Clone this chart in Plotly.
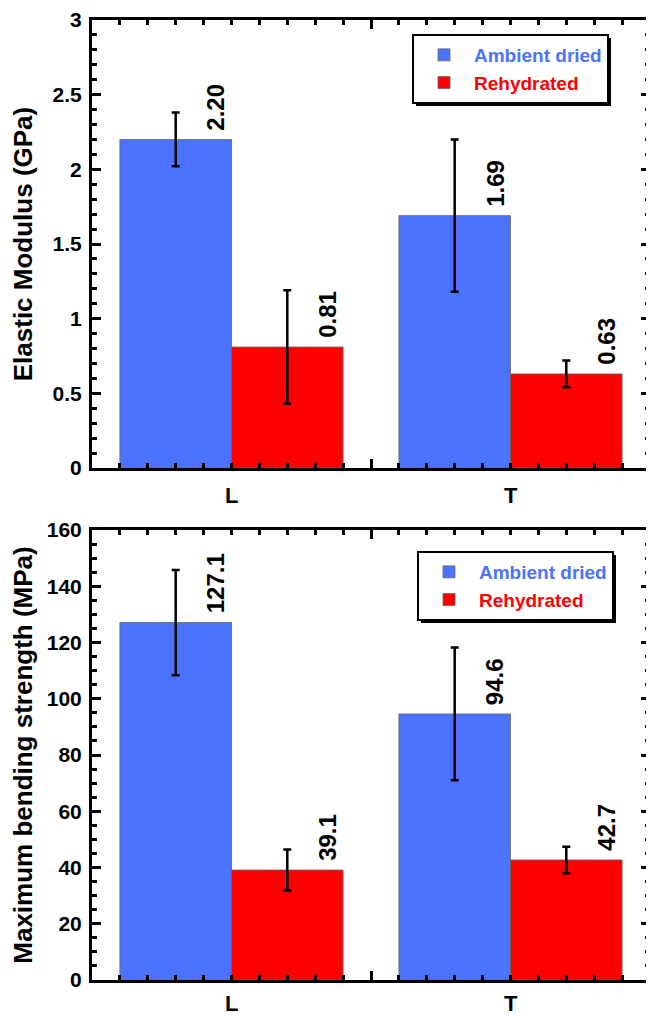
import numpy as np
import plotly.graph_objects as go

categories = ["L", "T"]
series_names = ["Ambient dried", "Rehydrated"]
series_colors = ["#4C73FF", "#FF0000"]

modulus_ambient = [2.20, 1.69]
modulus_ambient_err = [0.18, 0.51]
modulus_rehyd = [0.81, 0.63]
modulus_rehyd_err = [0.38, 0.09]

strength_ambient = [127.1, 94.6]
strength_ambient_err = [18.7, 23.6]
strength_rehyd = [39.1, 42.7]
strength_rehyd_err = [7.3, 4.7]

FONT = "Arial, Liberation Sans, sans-serif"
BAR_W = 0.4
offsets = [-0.4, 0.0]

# page body adds an 8px offset; size the figure so the plot lands where the reference has it
W, H = 646, 1009
ML, MR, MT, MB = 84, 4, 12, 37
PW, PH = W - ML - MR, H - MT - MB

fig = go.Figure()

panels = [
    (("x", "y"), "legend", [modulus_ambient, modulus_rehyd], [modulus_ambient_err, modulus_rehyd_err], "{:.2f}", -27),
    (("x2", "y2"), "legend2", [strength_ambient, strength_rehyd], [strength_ambient_err, strength_rehyd_err], "{:.1f}", -23),
]

xs = np.arange(len(categories))
annotations = []
for (xa, ya), leg, vals, errs, fmt, cat_shift in panels:
    for k in range(2):
        fig.add_trace(go.Bar(
            x=xs, y=vals[k], width=BAR_W, offset=offsets[k],
            name=f"<span style='color:{series_colors[k]}'>{series_names[k]}</span>",
            marker=dict(color=series_colors[k], line=dict(color="#666666", width=0.8)),
            error_y=dict(type="data", array=errs[k], visible=True, color="black",
                         thickness=2.5, width=4),
            xaxis=xa, yaxis=ya, legend=leg,
        ))
        for i, v in enumerate(vals[k]):
            annotations.append(dict(
                x=xs[i] + offsets[k] + BAR_W / 2, y=v, xref=xa, yref=ya,
                text=fmt.format(v), showarrow=False, textangle=-90,
                xanchor="center", yanchor="bottom", xshift=40, yshift=7,
                font=dict(family=FONT, size=24, color="black", weight="bold"),
            ))
    for i, c in enumerate(categories):
        annotations.append(dict(
            x=xs[i], y=0, xref=xa, yref=ya + " domain",
            text=c, showarrow=False, xanchor="center", yanchor="middle",
            yshift=cat_shift, borderpad=0,
            font=dict(family=FONT, size=22, color="black", weight="bold"),
        ))

minor_x = [v for v in np.round(np.arange(-0.4, 1.41, 0.1), 1) if abs(v - 0.5) > 1e-6]

xaxis_common = dict(
    range=[-0.5, 1.5], tickmode="array", tickvals=[0.5], ticktext=[""],
    ticks="inside", ticklen=9, tickwidth=3, tickcolor="black",
    showline=True, linecolor="black", linewidth=3, mirror="ticks",
    showgrid=False, zeroline=False, fixedrange=True, automargin=False,
    minor=dict(tickmode="array", tickvals=minor_x, ticks="inside", ticklen=5,
               tickwidth=2.5, tickcolor="black", showgrid=False),
)
yaxis_common = dict(
    ticks="inside", ticklen=9, tickwidth=3, tickcolor="black",
    showline=True, linecolor="black", linewidth=3, mirror="ticks",
    showgrid=False, zeroline=False, automargin=False,
    tickfont=dict(family=FONT, size=21, color="black", weight="bold"),
    ticklabelstandoff=3, ticklabeloverflow="allow",
)

legend_common = dict(xanchor="left", yanchor="top", bgcolor="white",
                     bordercolor="black", borderwidth=2, itemwidth=50,
                     font=dict(family=FONT, size=19, weight="bold"),
                     itemclick=False, tracegroupgap=0)

# legend boxes (px from plot-area top-left) and their drop shadows
legend_px = [(320, 14), (325, 531)]
LEG_W, LEG_H, SH = 195, 68, 4
shapes = []
for lx, ly in legend_px:
    shapes.append(dict(
        type="rect", xref="paper", yref="paper", layer="above",
        x0=(lx + SH) / PW, x1=(lx + LEG_W + SH) / PW,
        y0=1 - (ly + SH) / PH, y1=1 - (ly + LEG_H + SH) / PH,
        fillcolor="black", line=dict(width=0),
    ))

top_h, bot_h = 448, 450
fig.update_layout(
    width=W, height=H,
    margin=dict(l=ML, r=MR, t=MT, b=MB, autoexpand=False),
    paper_bgcolor="white", plot_bgcolor="white",
    barmode="overlay",
    font=dict(family=FONT, color="black"),
    xaxis=dict(domain=[0, 1], anchor="y", **xaxis_common),
    xaxis2=dict(domain=[0, 1], anchor="y2", **xaxis_common),
    yaxis=dict(domain=[1 - top_h / PH, 1], anchor="x", range=[0, 3], dtick=0.5,
               minor=dict(dtick=0.1, ticks="inside", ticklen=5, tickwidth=2.5, tickcolor="black"),
               title=dict(text="Elastic Modulus (GPa)", standoff=17,
                          font=dict(family=FONT, size=26, color="black", weight="bold")),
               **yaxis_common),
    yaxis2=dict(domain=[0, bot_h / PH], anchor="x2", range=[0, 160], dtick=20,
                minor=dict(dtick=5, ticks="inside", ticklen=5, tickwidth=2.5, tickcolor="black"),
                title=dict(text="Maximum bending strength (MPa)", standoff=17,
                           font=dict(family=FONT, size=26, color="black", weight="bold")),
                **yaxis_common),
    legend=dict(x=legend_px[0][0] / PW, y=1 - legend_px[0][1] / PH, **legend_common),
    legend2=dict(x=legend_px[1][0] / PW, y=1 - legend_px[1][1] / PH, **legend_common),
    annotations=annotations,
    shapes=shapes,
)

fig.write_html("out.html")
